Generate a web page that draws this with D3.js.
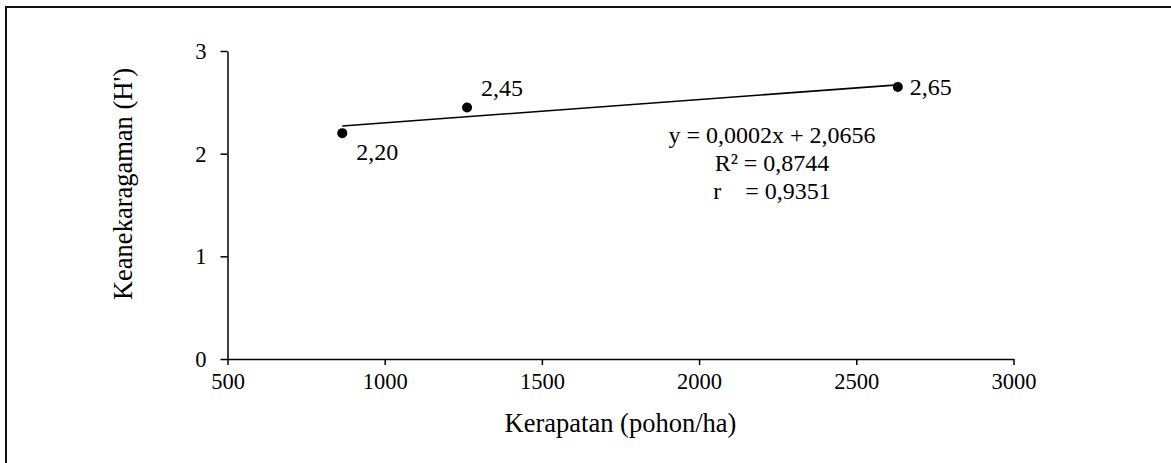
<!DOCTYPE html>
<html>
<head>
<meta charset="utf-8">
<script src="https://cdn.jsdelivr.net/npm/d3@7"></script>
<style>
  html, body { margin: 0; padding: 0; background: #fff; }
  svg text { font-family: "Liberation Serif", "Times New Roman", serif; fill: #000; }
</style>
</head>
<body>
<script>
// ---- data ----
const kerapatan = [865, 1262, 2632];          // x: Kerapatan (pohon/ha)
const keanekaragaman = [2.20, 2.45, 2.65];    // y: Keanekaragaman (H')
const pointLabels = ["2,20", "2,45", "2,65"];
const xTicks = [500, 1000, 1500, 2000, 2500, 3000];
const yTicks = [0, 1, 2, 3];
const xDomain = [500, 3000];
const yDomain = [0, 3];
const xTitle = "Kerapatan (pohon/ha)";
const yTitle = "Keanekaragaman (H')";
const equationLines = ["y = 0,0002x + 2,0656", "R² = 0,8744", "r    = 0,9351"];

// ---- layout ----
const W = 1171, H = 463;
const labelOffsets = [[14, 27], [14, -11], [12, 8]];

const svg = d3.select("body").append("svg").attr("width", W).attr("height", H);

// outer frame
svg.append("rect").attr("x", 6).attr("y", 7).attr("width", W + 20).attr("height", H + 20)
  .attr("fill", "none").attr("stroke", "#111").attr("stroke-width", 2);

const x = d3.scaleLinear().domain(xDomain).range([227.5, 1013.5]);
const y = d3.scaleLinear().domain(yDomain).range([359, 51]);

const xAxis = svg.append("g").attr("transform", "translate(0,359)")
  .call(d3.axisBottom(x).tickValues(xTicks).tickSize(6).tickSizeOuter(0).tickPadding(8).tickFormat(d3.format("d")));
const yAxis = svg.append("g").attr("transform", "translate(227.5,0)")
  .call(d3.axisLeft(y).tickValues(yTicks).tickSize(7).tickSizeOuter(0).tickPadding(14).tickFormat(d3.format("d")));

[xAxis, yAxis].forEach(g => {
  g.select(".domain").attr("stroke", "#000").attr("stroke-width", 1.5);
  g.selectAll(".tick line").attr("stroke", "#000").attr("stroke-width", 1.5);
  g.selectAll(".tick text").attr("font-family", "Liberation Serif").attr("font-size", 22.5).attr("fill", "#000");
});
yAxis.selectAll(".tick text").attr("dy", "0.34em");
xAxis.selectAll(".tick text").attr("dy", "0.72em");

// titles
svg.append("text").attr("x", 620.5).attr("y", 432).attr("text-anchor", "middle")
  .attr("font-size", 26.5).text(xTitle);
svg.append("text").attr("transform", "translate(132,184) rotate(-90)").attr("text-anchor", "middle")
  .attr("font-size", 26.5).text(yTitle);

// regression line (least squares from the data)
const n = kerapatan.length;
const mx = d3.mean(kerapatan), my = d3.mean(keanekaragaman);
let sxy = 0, sxx = 0;
for (let i = 0; i < n; i++) { sxy += (kerapatan[i] - mx) * (keanekaragaman[i] - my); sxx += (kerapatan[i] - mx) ** 2; }
const slope = sxy / sxx, intercept = my - slope * mx;
const [x0, x1] = d3.extent(kerapatan);
svg.append("line")
  .attr("x1", x(x0)).attr("y1", y(intercept + slope * x0))
  .attr("x2", x(x1)).attr("y2", y(intercept + slope * x1))
  .attr("stroke", "#000").attr("stroke-width", 1.6);

// points
const pts = kerapatan.map((v, i) => ({ x: v, y: keanekaragaman[i], label: pointLabels[i], off: labelOffsets[i] }));
svg.selectAll("circle.pt").data(pts).enter().append("circle").attr("class", "pt")
  .attr("cx", d => x(d.x)).attr("cy", d => y(d.y)).attr("r", 5).attr("fill", "#000");
svg.selectAll("text.pl").data(pts).enter().append("text").attr("class", "pl")
  .attr("x", d => x(d.x) + d.off[0]).attr("y", d => y(d.y) + d.off[1])
  .attr("font-size", 24).text(d => d.label);

// equation
svg.selectAll("text.eq").data(equationLines).enter().append("text").attr("class", "eq")
  .attr("x", 772).attr("y", (d, i) => 143 + i * 28).attr("text-anchor", "middle")
  .attr("font-size", 24).attr("xml:space", "preserve").style("white-space", "pre").text(d => d);
</script>
</body>
</html>
